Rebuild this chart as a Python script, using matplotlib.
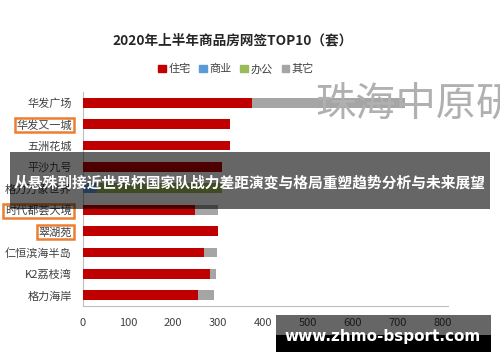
import matplotlib
matplotlib.use('Agg')
import matplotlib.pyplot as plt
import numpy as np
from matplotlib.patches import Rectangle, Patch

plt.rcParams['font.family'] = ['Noto Sans CJK SC', 'DejaVu Sans']

# data (top to bottom)
projects = ['华发广场', '华发又一城', '五洲花城', '平沙九号', '格力万象世界',
            '时代都荟大境', '翠湖苑', '仁恒滨海半岛', 'K2荔枝湾', '格力海岸']
residential = [375, 327, 327, 308, 0, 249, 300, 269, 282, 256]
commercial = [0, 0, 0, 0, 30, 0, 0, 0, 0, 0]
office = [0, 0, 0, 0, 278, 0, 0, 0, 0, 0]
other = [340, 0, 0, 0, 0, 51, 0, 28, 13, 35]
series = ['住宅', '商业', '办公', '其它']
colors = ['#C00000', '#5B9BD5', '#9BBB59', '#A5A5A5']
boxed = ['华发又一城', '时代都荟大境', '翠湖苑']

W, H = 500, 362
fig = plt.figure(figsize=(5, 3.62), dpi=100)
ax = fig.add_axes([83 / W, 1 - 306 / H, 365 / W, 214 / H])
ax.set_facecolor('none')

y = np.arange(len(projects))
left = np.zeros(len(projects))
for vals, c, name in zip([residential, commercial, office, other], colors, series):
    ax.barh(y, vals, left=left, height=0.45, color=c, label=name, zorder=3)
    left += np.array(vals)

ax.set_ylim(len(projects) - 0.5, -0.5)
ax.set_xlim(0, 811)
ax.set_xticks(range(0, 900, 100))
ax.set_yticks(y)
ax.set_yticklabels(projects)
ax.tick_params(length=0, labelsize=8, labelcolor='#404040')
ax.tick_params(axis='y', pad=8)
ax.tick_params(axis='x', pad=9)
for s in ['top', 'right']:
    ax.spines[s].set_visible(False)
for s in ['left', 'bottom']:
    ax.spines[s].set_color('#BFBFBF')
    ax.spines[s].set_linewidth(0.8)
for lab in ax.get_yticklabels():
    if lab.get_text() in boxed:
        lab.set_bbox(dict(facecolor='white', edgecolor='#ED7D31', lw=1.8, pad=1.2))

fig.text(233 / W, 1 - 40 / H, '2020年上半年商品房网签TOP10（套）', ha='center', va='center',
         fontsize=9.8, fontweight='bold', color='#262626')
handles = [Patch(color=c) for c in colors]
fig.legend(handles, series, loc='center', bbox_to_anchor=(236 / W, 1 - 69 / H), ncol=4,
           frameon=False, fontsize=8, handlelength=0.7, handleheight=0.7,
           handletextpad=0.2, columnspacing=0.8, labelcolor='#404040')

# watermark
fig.text(315 / W, 1 - 104 / H, '珠海中原研', ha='left', va='center', fontsize=29,
         color='#B0B0B0', zorder=1)

# banner overlay
fig.patches.append(Rectangle((10 / W, 1 - 209 / H), 480 / W, 57 / H, transform=fig.transFigure,
                             facecolor='black', alpha=0.6, zorder=10))
fig.text(250 / W, 1 - 183 / H, '从悬殊到接近世界杯国家队战力差距演变与格局重塑趋势分析与未来展望',
         ha='center', va='center', fontsize=10.6, fontweight='bold', color='white', zorder=11)

# url box
fig.patches.append(Rectangle((276 / W, 1 - 335 / H), 215 / W, 20 / H, transform=fig.transFigure,
                             facecolor='black', alpha=0.6, zorder=10))
fig.patches.append(Rectangle((276 / W, 1 - 352 / H), 215 / W, 17 / H, transform=fig.transFigure,
                             facecolor='black', zorder=10))
fig.text(383 / W, 1 - 336 / H, 'www.zhmo-bsport.com', ha='center', va='center',
         fontsize=11, fontweight='bold', color='white', family='DejaVu Sans', zorder=11)

fig.savefig('out.png', dpi=100, facecolor='white')
